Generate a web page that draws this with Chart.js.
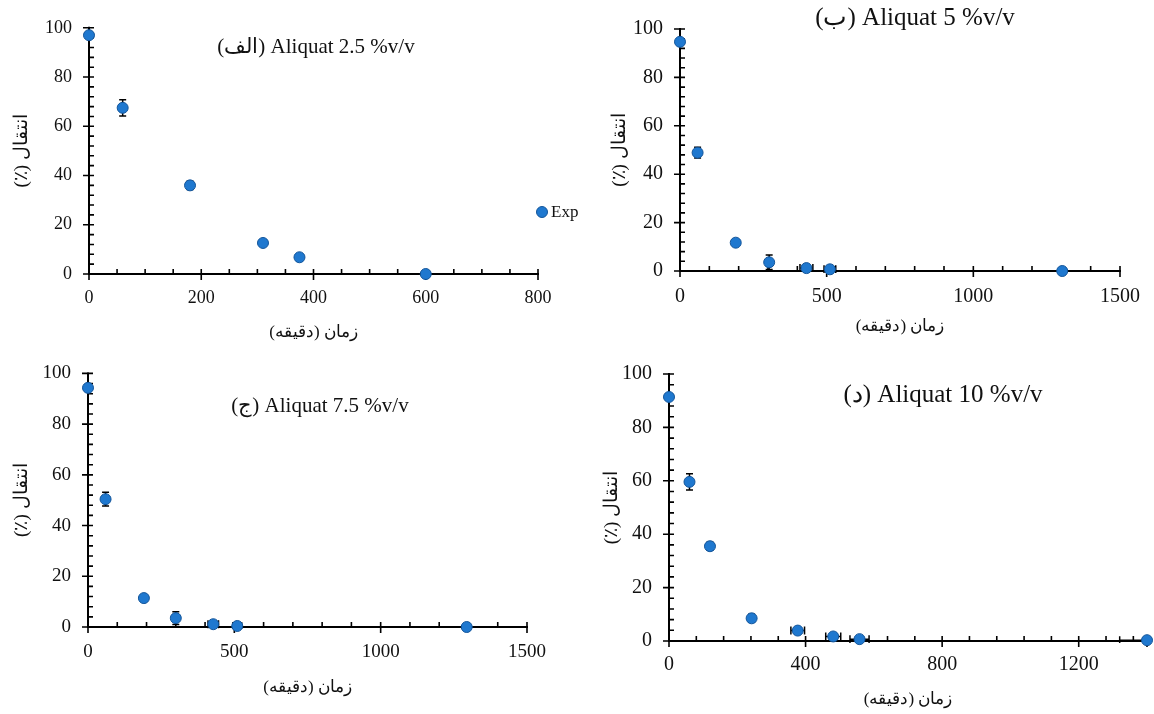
<!DOCTYPE html>
<html>
<head>
<meta charset="utf-8">
<script src="https://cdn.jsdelivr.net/npm/chart.js@4.4.0/dist/chart.umd.min.js"></script>
<style>
html, body { margin: 0; padding: 0; background: #fff; }
#page { position: relative; width: 1154px; height: 714px; overflow: hidden; background: #fff; }
canvas { position: absolute; }
</style>
</head>
<body>
<div id="page">
    <canvas id="nemudarA" width="620" height="357" style="left:0;top:0"></canvas>
    <canvas id="nemudarB" width="577" height="357" style="left:577px;top:0"></canvas>
    <canvas id="nemudarC" width="577" height="369" style="left:0;top:345px"></canvas>
    <canvas id="nemudarD" width="577" height="369" style="left:577px;top:345px"></canvas>
</div>
<script>
// داده ها - زمان (دقیقه) و انتقال (٪)
var zamanA = [0, 60, 180, 310, 375, 600];
var enteghalA = [97, 67.5, 36, 12.6, 6.8, 0];
var khataYA = [0, 3.3, 1.7, 0, 0, 0];
var khataXA = [0, 0, 0, 0, 0, 0];

var zamanB = [0, 60, 190, 304, 431, 511, 1303];
var enteghalB = [94.7, 48.9, 11.7, 3.6, 1.2, 0.7, 0];
var khataYB = [0, 2.2, 0, 3, 0, 0, 0];
var khataXB = [0, 0, 0, 0, 22, 20, 0];

var zamanC = [0, 60, 191, 300, 428, 510, 1294];
var enteghalC = [94.3, 50.4, 11.4, 3.5, 1.1, 0.4, 0];
var khataYC = [0, 2.7, 0, 2.5, 0, 0, 0];
var khataXC = [0, 0, 0, 0, 18, 15, 0];

var zamanD = [0, 60, 120, 242, 377, 481, 558, 1400];
var enteghalD = [91.4, 59.6, 35.5, 8.5, 3.9, 1.7, 0.7, 0.3];
var khataYD = [0, 3, 1.5, 1.5, 0, 0, 0, 0];
var khataXD = [0, 0, 0, 0, 20, 22, 28, 80];

var ticksYAll = [0, 20, 40, 60, 80, 100];
var ticksXA = [0, 200, 400, 600, 800];
var ticksXB = [0, 500, 1000, 1500];
var ticksXC = [0, 500, 1000, 1500];
var ticksXD = [0, 400, 800, 1200];

var onvanA = '(الف) Aliquat 2.5 %v/v';
var onvanB = '(ب) Aliquat 5 %v/v';
var onvanC = '(ج) Aliquat 7.5 %v/v';
var onvanD = '(د) Aliquat 10 %v/v';
var onvanX = 'زمان (دقیقه)\u200F';
var onvanY = 'انتقال (٪)\u200F';

var FONT = "'Liberation Serif', 'DejaVu Serif', serif";

// رسم محورها، تیک های فرعی و میله های خطا
var mehvarPlugin = {
    id: 'mehvar',
    beforeDatasetsDraw: function (chart, args, opts) {
        var ctx = chart.ctx, sx = chart.scales.x, sy = chart.scales.y, a = chart.chartArea;
        var yb = sy.getPixelForValue(0), xl = sx.getPixelForValue(0);
        ctx.save();
        ctx.strokeStyle = '#000';
        ctx.lineWidth = 2;
        ctx.beginPath();
        ctx.moveTo(a.left - 1, yb); ctx.lineTo(a.right + 1, yb);
        ctx.moveTo(xl, a.top - 1); ctx.lineTo(xl, a.bottom + 1);
        ctx.stroke();

        ctx.lineWidth = 1.6;
        ctx.beginPath();
        var majX = sx.ticks.map(function (t) { return t.value; });
        majX.push(sx.max);
        majX.forEach(function (v) {
            var px = sx.getPixelForValue(v);
            ctx.moveTo(px, yb - 5); ctx.lineTo(px, yb + 6);
        });
        for (var k = 1; k * opts.minorX < sx.max; k++) {
            var v = k * opts.minorX;
            if (majX.indexOf(v) >= 0) continue;
            var px = sx.getPixelForValue(v);
            ctx.moveTo(px, yb - 5); ctx.lineTo(px, yb);
        }
        sy.ticks.forEach(function (t) {
            var py = sy.getPixelForValue(t.value);
            ctx.moveTo(xl - 6, py); ctx.lineTo(xl + 5, py);
        });
        for (var j = 1; j * opts.minorY < sy.max; j++) {
            var w = j * opts.minorY;
            if (w % 20 === 0) continue;
            var py = sy.getPixelForValue(w);
            ctx.moveTo(xl, py); ctx.lineTo(xl + 5, py);
        }
        ctx.stroke();

        // میله های خطا
        ctx.beginPath();
        ctx.rect(a.left - 2, a.top - 10, a.right - a.left + 4, a.bottom - a.top + 12);
        ctx.clip();
        ctx.lineWidth = 1.5;
        ctx.beginPath();
        chart.data.datasets.forEach(function (ds) {
            ds.data.forEach(function (p, i) {
                var px = sx.getPixelForValue(p.x), py = sy.getPixelForValue(p.y);
                var ey = ds.errY[i], ex = ds.errX[i];
                if (ey > 0) {
                    var t = sy.getPixelForValue(p.y + ey), b = sy.getPixelForValue(Math.max(p.y - ey, 0));
                    ctx.moveTo(px, t); ctx.lineTo(px, b);
                    ctx.moveTo(px - 3.5, t); ctx.lineTo(px + 3.5, t);
                    ctx.moveTo(px - 3.5, b); ctx.lineTo(px + 3.5, b);
                }
                if (ex > 0) {
                    var l = sx.getPixelForValue(p.x - ex), r = sx.getPixelForValue(p.x + ex);
                    ctx.moveTo(l, py); ctx.lineTo(r, py);
                    ctx.moveTo(l, py - 4); ctx.lineTo(l, py + 4);
                    ctx.moveTo(r, py - 4); ctx.lineTo(r, py + 4);
                }
            });
        });
        ctx.stroke();
        ctx.restore();
    },
    afterDraw: function (chart, args, opts) {
        var ctx = chart.ctx;
        ctx.save();
        ctx.fillStyle = '#111';
        ctx.font = opts.onvanSize + 'px ' + FONT;
        ctx.textAlign = 'center';
        ctx.textBaseline = 'middle';
        ctx.fillText(opts.onvan, opts.onvanX, opts.onvanY);
        if (opts.legend) {
            var ds = chart.data.datasets[0];
            ctx.beginPath();
            ctx.arc(opts.legend.x, opts.legend.y, 5.5, 0, Math.PI * 2);
            ctx.fillStyle = ds.backgroundColor;
            ctx.fill();
            ctx.lineWidth = 1;
            ctx.strokeStyle = ds.borderColor;
            ctx.stroke();
            ctx.fillStyle = '#111';
            ctx.font = '17px ' + FONT;
            ctx.textAlign = 'left';
            ctx.fillText('Exp', opts.legend.x + 9, opts.legend.y + 1);
        }
        ctx.restore();
    }
};

function ghalebNemudar(id, zaman, enteghal, khataY, khataX, ticksX, maxX, minorX, size, onvan) {
    var data = zaman.map(function (t, i) { return { x: t, y: enteghal[i] }; });
    var ctx = document.getElementById(id).getContext('2d');
    return new Chart(ctx, {
        type: 'scatter',
        data: {
            datasets: [{
                label: 'Exp',
                data: data,
                errY: khataY,
                errX: khataX,
                backgroundColor: '#1f78cf',
                borderColor: '#13559a',
                borderWidth: 1,
                pointRadius: 5.5,
                pointHoverRadius: 5.5
            }]
        },
        options: {
            responsive: false,
            animation: false,
            clip: false,
            layout: { padding: { top: size.top, right: size.right, left: 0, bottom: 0 } },
            plugins: {
                legend: { display: false },
                tooltip: { enabled: false },
                mehvar: { minorX: minorX, minorY: 4, onvan: onvan.text, onvanX: onvan.x, onvanY: onvan.y, onvanSize: onvan.size, legend: onvan.legend }
            },
            scales: {
                x: {
                    type: 'linear',
                    min: 0,
                    max: maxX,
                    afterBuildTicks: function (s) { s.ticks = ticksX.map(function (v) { return { value: v }; }); },
                    afterFit: function (s) { s.height = size.xh; },
                    grid: { display: false, drawTicks: false },
                    border: { display: false },
                    ticks: { color: '#111', font: { family: FONT, size: size.fs }, padding: size.xpad, maxRotation: 0,
                        callback: function (v) { return String(v); } },
                    title: { display: true, text: onvanX, color: '#111', font: { family: FONT, size: 17 }, padding: { top: 0, bottom: size.xtp } }
                },
                y: {
                    type: 'linear',
                    min: 0,
                    max: 100,
                    afterBuildTicks: function (s) { s.ticks = ticksYAll.map(function (v) { return { value: v }; }); },
                    afterFit: function (s) { s.width = size.yw; },
                    grid: { display: false, drawTicks: false },
                    border: { display: false },
                    ticks: { color: '#111', font: { family: FONT, size: size.fs }, padding: 17,
                        callback: function (v) { return String(v); } },
                    title: { display: true, text: onvanY, color: '#111', font: { family: FONT, size: 19 }, padding: { top: size.ytp, bottom: 0 } }
                }
            }
        },
        plugins: [mehvarPlugin]
    });
}

ghalebNemudar('nemudarA', zamanA, enteghalA, khataYA, khataXA, ticksXA, 800, 50,
    { top: 25, right: 82, xh: 83, yw: 89, xpad: 13, xtp: 14, ytp: 11, fs: 18 },
    { text: onvanA, x: 316, y: 47, size: 21, legend: { x: 542, y: 212 } });
ghalebNemudar('nemudarB', zamanB, enteghalB, khataYB, khataXB, ticksXB, 1500, 100,
    { top: 20, right: 25, xh: 86, yw: 103, xpad: 14, xtp: 20, ytp: 32, fs: 20 },
    { text: onvanB, x: 338, y: 18, size: 25 });
ghalebNemudar('nemudarC', zamanC, enteghalC, khataYC, khataXC, ticksXC, 1500, 100,
    { top: 20, right: 50, xh: 87, yw: 88, xpad: 14, xtp: 16, ytp: 11, fs: 19 },
    { text: onvanC, x: 320, y: 61, size: 21 });
ghalebNemudar('nemudarD', zamanD, enteghalD, khataYD, khataXD, ticksXD, 1400, 80,
    { top: 24, right: 7, xh: 73, yw: 92, xpad: 12, xtp: 4, ytp: 24, fs: 20 },
    { text: onvanD, x: 366, y: 50, size: 25 });
</script>
</body>
</html>
